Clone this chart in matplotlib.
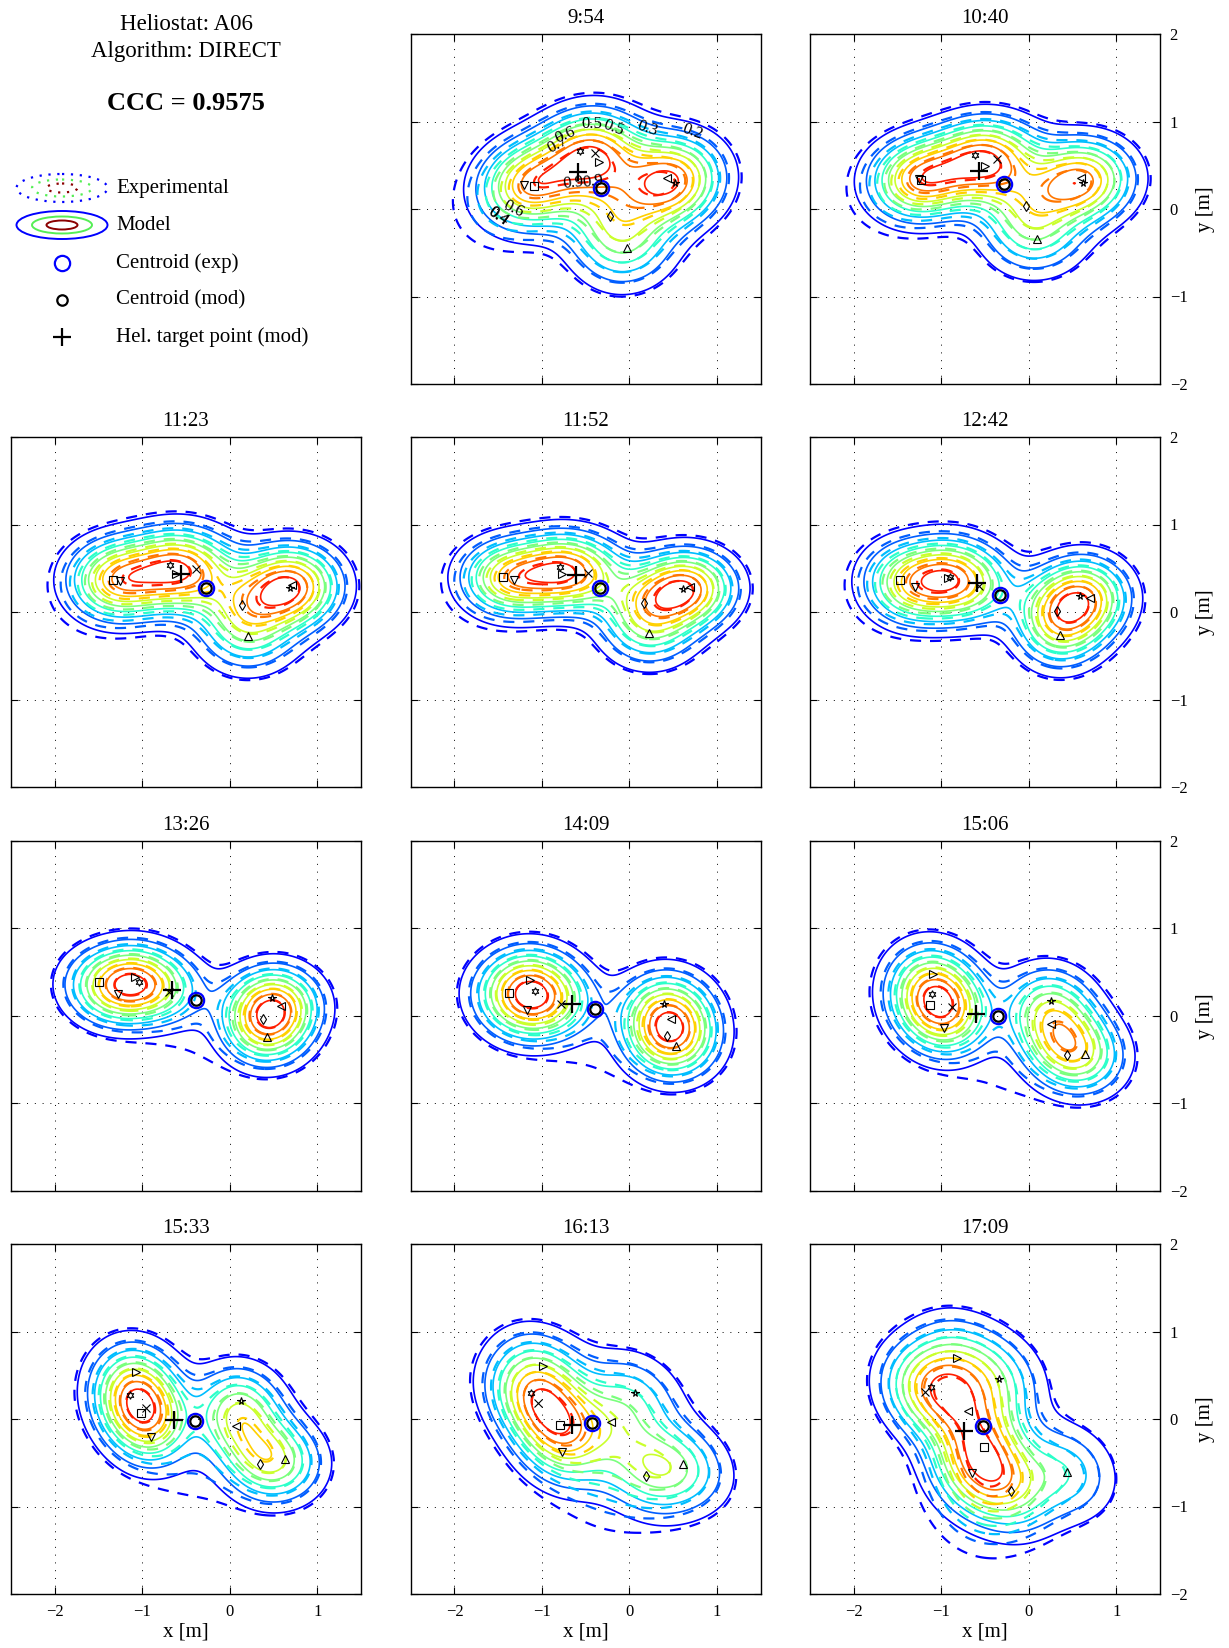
import numpy as np
import matplotlib
matplotlib.use("Agg")
import matplotlib.pyplot as plt
from matplotlib.colors import Normalize
from matplotlib.patches import Ellipse

plt.rcParams["font.family"] = ["Liberation Serif", "DejaVu Serif"]
plt.rcParams["axes.unicode_minus"] = True

# ---------------------------------------------------------------------------
# Data: one entry per measurement time
# ---------------------------------------------------------------------------
TIMES = ["9:54", "10:40", "11:23", "11:52", "12:42", "13:26",
         "14:09", "15:06", "15:33", "16:13", "17:09"]

# facet aim points, marker order: s v ^ < > d star hexagram x
FACET_MARKERS = ["s", "v", "^", "<", ">", "d", "*", (6, 1, 0), "x"]
FACET_X = [
    [-1.087, -1.205, -0.028, 0.426, -0.348, -0.222, 0.525, -0.565, -0.393],
    [-1.235, -1.250, 0.090, 0.597, -0.496, -0.035, 0.616, -0.614, -0.367],
    [-1.330, -1.254, 0.209, 0.710, -0.610, 0.140, 0.685, -0.679, -0.382],
    [-1.445, -1.323, 0.228, 0.696, -0.770, 0.170, 0.612, -0.790, -0.477],
    [-1.471, -1.300, 0.357, 0.700, -0.919, 0.319, 0.586, -0.900, -0.565],
    [-1.490, -1.281, 0.422, 0.586, -1.083, 0.376, 0.479, -1.033, -0.690],
    [-1.380, -1.170, 0.529, 0.479, -1.132, 0.430, 0.391, -1.075, -0.782],
    [-1.125, -0.972, 0.647, 0.254, -1.090, 0.433, 0.254, -1.106, -0.881],
    [-1.018, -0.904, 0.635, 0.075, -1.075, 0.350, 0.132, -1.136, -0.961],
    [-0.793, -0.770, 0.609, -0.210, -0.984, 0.186, 0.069, -1.125, -1.049],
    [-0.508, -0.649, 0.441, -0.698, -0.816, -0.207, -0.340, -1.121, -1.182],
]
FACET_Y = [
    [0.263, 0.270, -0.450, 0.350, 0.540, -0.080, 0.297, 0.667, 0.644],
    [0.331, 0.340, -0.339, 0.358, 0.495, 0.034, 0.300, 0.617, 0.575],
    [0.370, 0.354, -0.278, 0.310, 0.434, 0.076, 0.280, 0.541, 0.491],
    [0.404, 0.370, -0.240, 0.282, 0.434, 0.099, 0.263, 0.518, 0.442],
    [0.370, 0.282, -0.259, 0.156, 0.389, 0.008, 0.187, 0.396, 0.293],
    [0.381, 0.248, -0.240, 0.110, 0.446, -0.042, 0.206, 0.381, 0.274],
    [0.263, 0.069, -0.350, -0.034, 0.411, -0.232, 0.137, 0.282, 0.137],
    [0.126, -0.137, -0.434, -0.099, 0.480, -0.446, 0.164, 0.251, 0.099],
    [0.065, -0.210, -0.457, -0.076, 0.533, -0.518, 0.210, 0.274, 0.130],
    [-0.069, -0.373, -0.518, -0.038, 0.606, -0.651, 0.293, 0.301, 0.187],
    [-0.316, -0.613, -0.602, 0.095, 0.701, -0.819, 0.453, 0.370, 0.305],
]
# relative power delivered by each facet
FACET_W = [
    [1.30, 1.30, 1.20, 1.50, 1.00, 1.20, 1.50, 1.00, 1.00],
    [1.30, 1.30, 1.10, 1.35, 1.00, 1.10, 1.35, 1.00, 1.00],
    [1.20, 1.20, 1.10, 1.45, 1.00, 1.10, 1.45, 1.00, 1.00],
    [1.10, 1.10, 1.10, 1.35, 1.00, 1.10, 1.35, 1.00, 1.00],
    [1.00, 1.00, 1.10, 1.15, 1.00, 1.10, 1.15, 1.00, 1.00],
    [1.00, 1.00, 1.15, 1.15, 1.00, 1.15, 1.15, 1.00, 1.00],
    [1.00, 1.00, 1.20, 1.20, 1.00, 1.20, 1.20, 1.00, 1.00],
    [1.00, 1.00, 1.25, 1.25, 1.00, 1.25, 1.25, 1.00, 1.00],
    [1.00, 1.00, 1.25, 1.25, 1.00, 1.25, 1.25, 1.00, 1.00],
    [1.20, 1.20, 1.30, 1.00, 1.00, 1.30, 1.00, 1.00, 1.00],
    [1.30, 1.30, 1.10, 1.00, 1.00, 1.30, 1.00, 1.00, 1.00],
]

TARGET_X = [-0.590, -0.569, -0.553, -0.607, -0.595, -0.664, -0.656, -0.603, -0.641, -0.652, -0.740]
TARGET_Y = [0.427, 0.438, 0.434, 0.427, 0.331, 0.293, 0.137, 0.023, -0.011, -0.069, -0.137]
CENT_EXP_X = [-0.325, -0.283, -0.271, -0.332, -0.329, -0.386, -0.390, -0.355, -0.401, -0.424, -0.519]
CENT_EXP_Y = [0.244, 0.282, 0.270, 0.274, 0.194, 0.179, 0.072, -0.004, -0.023, -0.050, -0.076]
CENT_MOD_X = [-0.325, -0.283, -0.271, -0.332, -0.329, -0.386, -0.390, -0.355, -0.401, -0.424, -0.519]
CENT_MOD_Y = [0.244, 0.282, 0.270, 0.274, 0.194, 0.179, 0.072, -0.004, -0.023, -0.050, -0.076]

# facet image size (m) and orientation (deg) per time
IMG_SX = [0.37, 0.37, 0.36, 0.35, 0.33, 0.33, 0.34, 0.34, 0.33, 0.38, 0.37]
IMG_SY = [0.32, 0.30, 0.30, 0.28, 0.30, 0.28, 0.30, 0.30, 0.30, 0.30, 0.32]
IMG_ANG = [15, 5, 0, 0, 0, 0, 0, -20, -30, -35, -45]

# experimental images are slightly wider, with a weak stray lobe
EXP_GROW = [1.06, 1.05, 1.05, 1.05, 1.05, 1.04, 1.04, 1.05, 1.05, 1.06, 1.06]
STRAY_X = [-1.55, -1.6, -1.6, -1.7, -1.7, -0.45, -0.40, -0.35, -0.40, -0.30, -0.60]
STRAY_Y = [-0.05, 0.1, 0.1, 0.2, 0.2, -0.35, -0.45, -0.75, -0.65, -0.90, -1.10]
STRAY_W = [0.35, 0.25, 0.2, 0.2, 0.2, 0.25, 0.3, 0.3, 0.35, 0.45, 0.55]

LEVELS = [0.1, 0.2, 0.3, 0.4, 0.5, 0.6, 0.7, 0.8, 0.9]

# contour labels on the first map
LABEL_POS = [(0.71, 0.865), (0.20, 0.90), (-0.18, 0.94), (-0.43, 0.95),
             (-0.74, 0.85), (-0.83, 0.75), (-0.43, 0.43), (-0.64, 0.31),
             (-1.48, -0.05), (-1.31, 0.03), (-1.52, -0.13)]

# ---------------------------------------------------------------------------
xs = np.linspace(-2.5, 1.5, 320)
ys = np.linspace(-2.0, 2.0, 320)
X, Y = np.meshgrid(xs, ys)
norm = Normalize(vmin=-0.0333, vmax=1.0333)


def flux(cx, cy, sx, sy, ang, weights):
    t = np.deg2rad(ang)
    F = np.zeros_like(X)
    for x0, y0, w in zip(cx, cy, weights):
        u = (X - x0) * np.cos(t) + (Y - y0) * np.sin(t)
        v = -(X - x0) * np.sin(t) + (Y - y0) * np.cos(t)
        F += w * np.exp(-0.5 * ((u / sx) ** 2 + (v / sy) ** 2))
    return F / F.max()


W, H = 1229, 1648
fig = plt.figure(figsize=(W / 100, H / 100), dpi=100)

AX_W, AX_H = 350 / W, 350 / H
COL_LEFT = [11, 410.7, 810]
ROW_TOP = [34, 437, 840.7, 1244]
SLOTS = [(0, 1), (0, 2)] + [(r, c) for r in (1, 2, 3) for c in (0, 1, 2)]

for i, t in enumerate(TIMES):
    r, c = SLOTS[i]
    ax = fig.add_axes([COL_LEFT[c] / W, 1 - (ROW_TOP[r] + 350) / H, AX_W, AX_H])

    fx, fy, fw = FACET_X[i], FACET_Y[i], FACET_W[i]
    F_mod = flux(fx, fy, IMG_SX[i], IMG_SY[i], IMG_ANG[i], fw)
    g = EXP_GROW[i]
    F_exp = flux(fx + [STRAY_X[i]], fy + [STRAY_Y[i]],
                 IMG_SX[i] * g, IMG_SY[i] * g, IMG_ANG[i],
                 fw + [STRAY_W[i]])

    ax.contour(X, Y, F_mod, levels=LEVELS, cmap="jet", norm=norm,
               linewidths=1.2)
    cs_exp = ax.contour(X, Y, F_exp, levels=LEVELS, cmap="jet", norm=norm,
                        linewidths=1.6, linestyles=[(0, (5, 4))])
    if i == 0:
        ax.clabel(cs_exp, fmt="%.1f", fontsize=12, inline=False,
                  colors="k", manual=LABEL_POS)

    for mk, x0, y0 in zip(FACET_MARKERS, fx, fy):
        ax.plot(x0, y0, marker=mk, ms=5.5, mfc="none", mec="k", mew=0.8,
                ls="none")

    ax.plot(TARGET_X[i], TARGET_Y[i], marker="+", ms=13, mew=1.6, color="k")
    ax.plot(CENT_EXP_X[i], CENT_EXP_Y[i], marker="o", ms=11, mfc="none",
            mec="#0000ff", mew=1.6)
    ax.plot(CENT_MOD_X[i], CENT_MOD_Y[i], marker="o", ms=7.5, mfc="none",
            mec="k", mew=1.6)

    ax.set_xlim(-2.5, 1.5)
    ax.set_ylim(-2, 2)
    ax.set_xticks([-2, -1, 0, 1])
    ax.set_yticks([-2, -1, 0, 1, 2])
    ax.grid(True, linestyle=(0, (1, 7)), color="k", linewidth=0.7)
    ax.tick_params(direction="in", top=True, right=True, length=5,
                   width=0.8, labelsize=12, pad=7)
    for sp in ax.spines.values():
        sp.set_linewidth(1.0)
    ax.set_title(t, fontsize=15, pad=8)

    if r == 3:
        ax.set_xlabel("x [m]", fontsize=15, labelpad=2)
    else:
        ax.tick_params(labelbottom=False)
    if c == 2:
        ax.tick_params(labelleft=False, labelright=True)
        ax.yaxis.set_label_position("right")
        ax.set_ylabel("y [m]", fontsize=15, labelpad=6)
    else:
        ax.tick_params(labelleft=False)

# ---------------------------------------------------------------------------
# Info / legend panel (pixel coordinates)
# ---------------------------------------------------------------------------
lg = fig.add_axes([0, 1 - 360 / H, 400 / W, 360 / H])
lg.set_xlim(0, 400)
lg.set_ylim(360, 0)
lg.axis("off")

lg.text(186, 25, "Heliostat: A06", fontsize=16.5, ha="center", va="center")
lg.text(186, 51, "Algorithm: DIRECT", fontsize=16.5, ha="center", va="center")
lg.text(186, 103, "CCC = 0.9575", fontsize=19, fontweight="bold",
        ha="center", va="center")

ICON_X = 62
ring_sizes = [(91, 28, "#0000ff"), (60, 17, "#55ee55"), (31, 9, "#8b0000")]
for w_, h_, col in ring_sizes:
    lg.add_patch(Ellipse((ICON_X, 188), w_, h_, fill=False, ec=col, lw=1.6,
                         ls=(0, (1, 3))))
    lg.add_patch(Ellipse((ICON_X, 225), w_, h_, fill=False, ec=col, lw=1.4))
lg.plot(ICON_X, 263, marker="o", ms=11, mfc="none", mec="#0000ff", mew=1.6)
lg.plot(ICON_X, 300, marker="o", ms=7.5, mfc="none", mec="k", mew=1.6)
lg.plot(ICON_X, 337, marker="+", ms=13, mew=1.6, color="k")

LEGEND_TEXT = ["Experimental", "Model", "Centroid (exp)", "Centroid (mod)",
               "Hel. target point (mod)"]
for txt, yy in zip(LEGEND_TEXT, [188, 225, 263, 300, 337]):
    lg.text(116, yy, txt, fontsize=15, ha="left", va="center")

fig.savefig("out.png", dpi=100)
